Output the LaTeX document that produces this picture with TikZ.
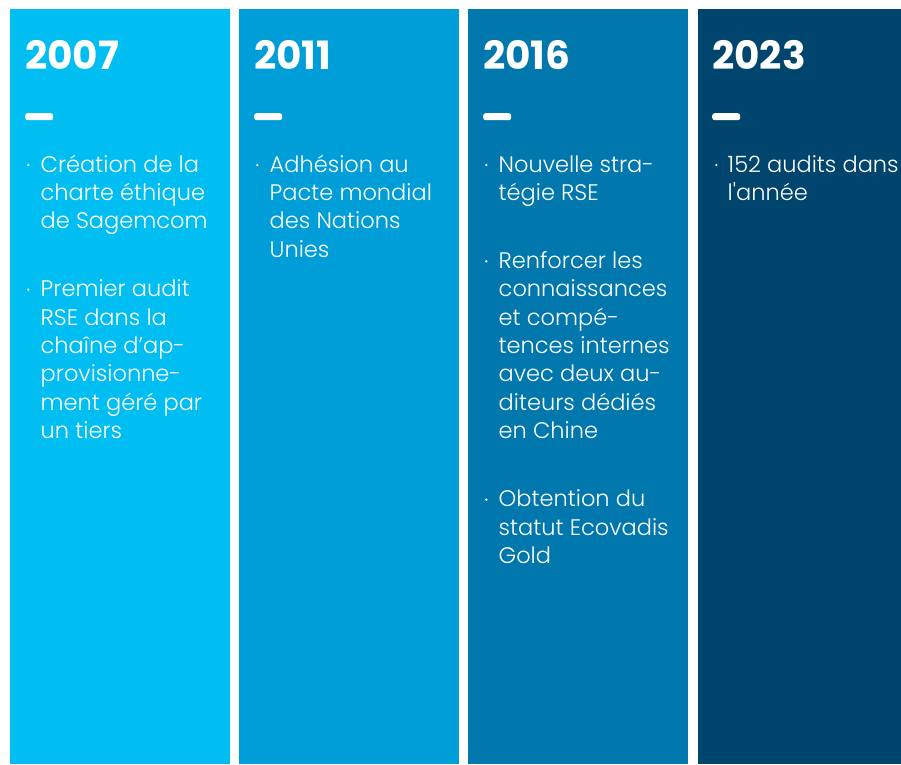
\documentclass[tikz,border=0pt]{standalone}
\usepackage{fontspec}
\setmainfont{Poppins}[UprightFont={* Light},BoldFont={* Bold},Ligatures=TeXOff]
\definecolor{cA}{HTML}{00BDF2}
\definecolor{cB}{HTML}{009ED8}
\definecolor{cC}{HTML}{0077AD}
\definecolor{cD}{HTML}{00456D}
\tikzset{
  colbox/.style={draw=none, inner sep=0pt, anchor=north west, minimum height=755pt},
  year/.style={anchor=base west, inner sep=0pt, text=white, font=\fontsize{39}{40}\selectfont\bfseries},
  bar/.style={fill=white, draw=none, rounded corners=2.5pt, inner sep=0pt, anchor=north west, minimum width=28pt, minimum height=7pt},
  item/.style={anchor=north west, inner sep=0pt, align=left, text=white, font=\fontsize{22.5}{28.33}\selectfont},
  dot/.style={circle, fill=white, draw=none, inner sep=0pt, minimum size=2.6pt}
}
\newcommand{\st}{\rule{0pt}{24pt}}
\begin{document}
\begin{tikzpicture}[x=1pt,y=-1pt]
\useasboundingbox[fill=white] (0,0) rectangle (901,764);
% columns
\node[colbox, fill=cA, minimum width=220pt] (c1) at (10,9) {};
\node[colbox, fill=cB, minimum width=220pt] (c2) at (239,9) {};
\node[colbox, fill=cC, minimum width=220pt] (c3) at (468,9) {};
\node[colbox, fill=cD, minimum width=203pt] (c4) at (698,9) {};
% years
\node[year] (y1) at (25,69) {2007};
\node[year] (y2) at (254,69) {2011};
\node[year] (y3) at (483,69) {2016};
\node[year] (y4) at (712,69) {2023};
% bars
\node[bar] (b1) at (25,113) {};
\node[bar] (b2) at (254,113) {};
\node[bar] (b3) at (483,113) {};
\node[bar] (b4) at (712,113) {};
% column 1
\node[dot] (d11) at (28.3,165) {};
\node[item] (t11) at (40.5,148) {\st Création de la\\charte éthique\\de Sagemcom};
\node[dot] (d12) at (28.3,289.7) {};
\node[item] (t12) at (40.5,272.7) {\st Premier audit\\RSE dans la\\chaîne d’ap-\\provisionne-\\ment géré par\\un tiers};
% column 2
\node[dot] (d21) at (257.3,165) {};
\node[item] (t21) at (269.5,148) {\st Adhésion au\\Pacte mondial\\des Nations\\Unies};
% column 3
\node[dot] (d31) at (486.3,165) {};
\node[item] (t31) at (498.5,148) {\st Nouvelle stra-\\tégie RSE};
\node[dot] (d32) at (486.3,261.3) {};
\node[item] (t32) at (498.5,244.3) {\st Renforcer les\\connaissances\\et compé-\\tences internes\\avec deux au-\\diteurs dédiés\\en Chine};
\node[dot] (d33) at (486.3,499.7) {};
\node[item] (t33) at (498.5,482.7) {\st Obtention du\\statut Ecovadis\\Gold};
% column 4
\node[dot] (d41) at (716.3,165) {};
\node[item] (t41) at (727.5,148) {\st 152 audits dans\\l'année};
\end{tikzpicture}
\end{document}
